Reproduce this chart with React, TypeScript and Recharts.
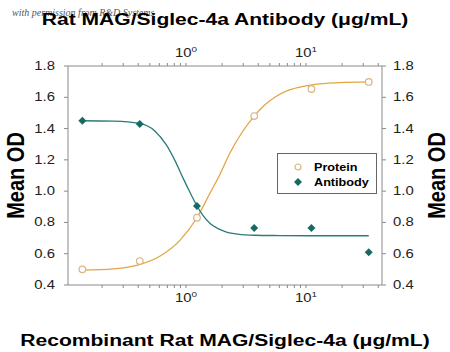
import {
  ComposedChart,
  Line,
  Scatter,
  XAxis,
  YAxis,
  Legend,
} from 'recharts';

// measured points (3-fold dilutions)
const concentrations = [0.137, 0.412, 1.235, 3.704, 11.11, 33.33];
const proteinOD = [0.5, 0.553, 0.83, 1.48, 1.653, 1.698];
const antibodyOD = [1.45, 1.43, 0.905, 0.765, 0.765, 0.61];

// fitted curves
const proteinFitX = [0.137, 0.25, 0.41, 0.61, 0.89, 1.235, 1.58, 1.9, 2.33, 2.9, 3.7, 4.6, 5.5, 7, 8.9, 12, 19, 33.33];
const proteinFitY = [0.495, 0.503, 0.53, 0.585, 0.685, 0.83, 0.985, 1.1, 1.245, 1.37, 1.48, 1.555, 1.6, 1.642, 1.665, 1.683, 1.694, 1.699];
const antibodyFitX = [0.137, 0.25, 0.41, 0.55, 0.68, 0.81, 0.95, 1.1, 1.235, 1.4, 1.58, 1.85, 2.15, 2.7, 3.7, 6, 11, 20, 33.33];
const antibodyFitY = [1.45, 1.447, 1.433, 1.385, 1.3, 1.195, 1.08, 0.98, 0.905, 0.84, 0.795, 0.76, 0.74, 0.725, 0.718, 0.716, 0.715, 0.715, 0.715];

const yTicks = [0.4, 0.6, 0.8, 1.0, 1.2, 1.4, 1.6, 1.8];
const xTicks = [0.2, 0.3, 0.4, 0.5, 0.6, 0.7, 0.8, 0.9, 1, 2, 3, 4, 5, 6, 7, 8, 9, 10, 20, 30, 40];
const xTickLabels: Record<number, string> = { 1: '0', 10: '1' };

const proteinPoints = concentrations.map((x, i) => ({ x, y: proteinOD[i] }));
const antibodyPoints = concentrations.map((x, i) => ({ x, y: antibodyOD[i] }));
const proteinFit = proteinFitX.map((x, i) => ({ x, y: proteinFitY[i] }));
const antibodyFit = antibodyFitX.map((x, i) => ({ x, y: antibodyFitY[i] }));

const ORANGE = '#e6a444';
const TAN = '#d8b583';
const TEAL = '#2b7b78';
const DIAMOND = '#176a62';
const AXIS = '#8a8a8a';
const SX = 1.24; // the figure is stretched sideways
const FONT = 'Liberation Sans, Arial, sans-serif';

const XTick = (props: any) => {
  const { x, y, payload, orientation } = props;
  const exp = xTickLabels[payload.value];
  if (exp === undefined) return null;
  const base = orientation === 'top' ? y - 2 : y + 10;
  return (
    <text transform={`translate(${x},${base}) scale(${SX},1)`} textAnchor="middle" fontFamily={FONT} fontSize={12} fill="#222">
      10
      <tspan dy={-5} fontSize={8}>{exp}</tspan>
    </text>
  );
};

const YTick = (props: any) => {
  const { x, y, payload, textAnchor } = props;
  return (
    <text transform={`translate(${x},${y}) scale(${SX},1)`} textAnchor={textAnchor} dominantBaseline="central" fontFamily={FONT} fontSize={12} fill="#222">
      {payload.value.toFixed(1)}
    </text>
  );
};

const hTitle = (text: string, dy: number) => (props: any) => {
  const { x, y, width } = props.viewBox;
  return (
    <text transform={`translate(${x + width / 2},${y + dy}) scale(${SX},1)`} textAnchor="middle" fontFamily={FONT} fontWeight="bold" fontSize={17} fill="#000">
      {text}
    </text>
  );
};

const vTitle = (dx: number) => (props: any) => {
  const { x, y, height } = props.viewBox;
  return (
    <text transform={`translate(${x + dx},${y + height / 2}) scale(1.15,1) rotate(-90)`} textAnchor="middle" dominantBaseline="central" fontFamily={FONT} fontWeight="bold" fontSize={20} fill="#000">
      Mean OD
    </text>
  );
};

const OpenCircle = (props: any) => (
  <circle cx={props.cx} cy={props.cy} r={3.3} fill="#fff" stroke={TAN} strokeWidth={1.2} />
);

const Diamond = (props: any) => {
  const { cx, cy } = props;
  return <polygon points={`${cx},${cy - 4} ${cx + 4},${cy} ${cx},${cy + 4} ${cx - 4},${cy}`} fill={DIAMOND} />;
};

const LegendBox = () => (
  <div style={{ width: 100, height: 41, border: '1px solid #666', background: '#fff', boxSizing: 'border-box', fontFamily: FONT, fontWeight: 'bold', fontSize: 11, color: '#000' }}>
    {[
      { name: 'Protein', mark: <circle cx={5} cy={5} r={3} fill="#fff" stroke={TAN} strokeWidth={1.2} /> },
      { name: 'Antibody', mark: <polygon points="5,1 9,5 5,9 1,5" fill={DIAMOND} /> },
    ].map((item, i) => (
      <div key={item.name} style={{ position: 'absolute', left: 16, top: 9 + i * 15, height: 10, display: 'flex', alignItems: 'center' }}>
        <svg width={10} height={10}>{item.mark}</svg>
        <span style={{ marginLeft: 11, display: 'inline-block', transform: 'scaleX(1.15)', transformOrigin: 'left center' }}>{item.name}</span>
      </div>
    ))}
  </div>
);

export default function App() {
  return (
    <div style={{ position: 'absolute', left: 0, top: 0, width: 450, height: 352, background: '#fff' }}>
      <div style={{ position: 'absolute', left: 12, top: 7, fontFamily: 'Liberation Serif, serif', fontStyle: 'italic', fontSize: 10, color: '#555' }}>
        with permission from R&amp;D Systems
      </div>
      <ComposedChart width={450} height={352} margin={{ top: 0, right: 0, bottom: 0, left: 0 }} style={{ position: 'absolute', left: 0, top: 0 }}>
        <XAxis
          xAxisId="bottom"
          dataKey="x"
          type="number"
          scale="log"
          domain={[0.104, 43]}
          allowDataOverflow
          ticks={xTicks}
          interval={0}
          height={67}
          stroke={AXIS}
          tickSize={3}
          tickMargin={4}
          tick={<XTick orientation="bottom" />}
          label={hTitle('Recombinant Rat MAG/Siglec-4a (\u03bcg/mL)', 61)}
        />
        <XAxis
          xAxisId="top"
          orientation="top"
          dataKey="x"
          type="number"
          scale="log"
          domain={[0.104, 43]}
          allowDataOverflow
          ticks={xTicks}
          interval={0}
          height={66}
          stroke={AXIS}
          tickSize={3}
          tickMargin={4}
          tick={<XTick orientation="top" />}
          label={hTitle('Rat MAG/Siglec-4a Antibody (\u03bcg/mL)', 25)}
        />
        <YAxis
          yAxisId="left"
          type="number"
          domain={[0.4, 1.8]}
          ticks={yTicks}
          interval={0}
          width={68}
          stroke={AXIS}
          tickSize={4}
          tickMargin={9}
          tick={<YTick />}
          label={vTitle(16)}
        />
        <YAxis
          yAxisId="right"
          orientation="right"
          type="number"
          domain={[0.4, 1.8]}
          ticks={yTicks}
          interval={0}
          width={68}
          stroke={AXIS}
          tickSize={4}
          tickMargin={7}
          tick={<YTick />}
          label={vTitle(55)}
        />
        <Legend
          layout="vertical"
          align="center"
          verticalAlign="middle"
          content={<LegendBox />}
          wrapperStyle={{ left: 277, top: 153, width: 100, height: 41 }}
        />
        <Line xAxisId="bottom" yAxisId="left" data={proteinFit} dataKey="y" type="monotone" stroke={ORANGE} strokeWidth={1.3} dot={false} activeDot={false} legendType="none" isAnimationActive={false} />
        <Line xAxisId="top" yAxisId="right" data={antibodyFit} dataKey="y" type="monotone" stroke={TEAL} strokeWidth={1.3} dot={false} activeDot={false} legendType="none" isAnimationActive={false} />
        <Scatter xAxisId="bottom" yAxisId="left" name="Protein" data={proteinPoints} dataKey="y" shape={<OpenCircle />} isAnimationActive={false} />
        <Scatter xAxisId="top" yAxisId="right" name="Antibody" data={antibodyPoints} dataKey="y" shape={<Diamond />} isAnimationActive={false} />
      </ComposedChart>
    </div>
  );
}
